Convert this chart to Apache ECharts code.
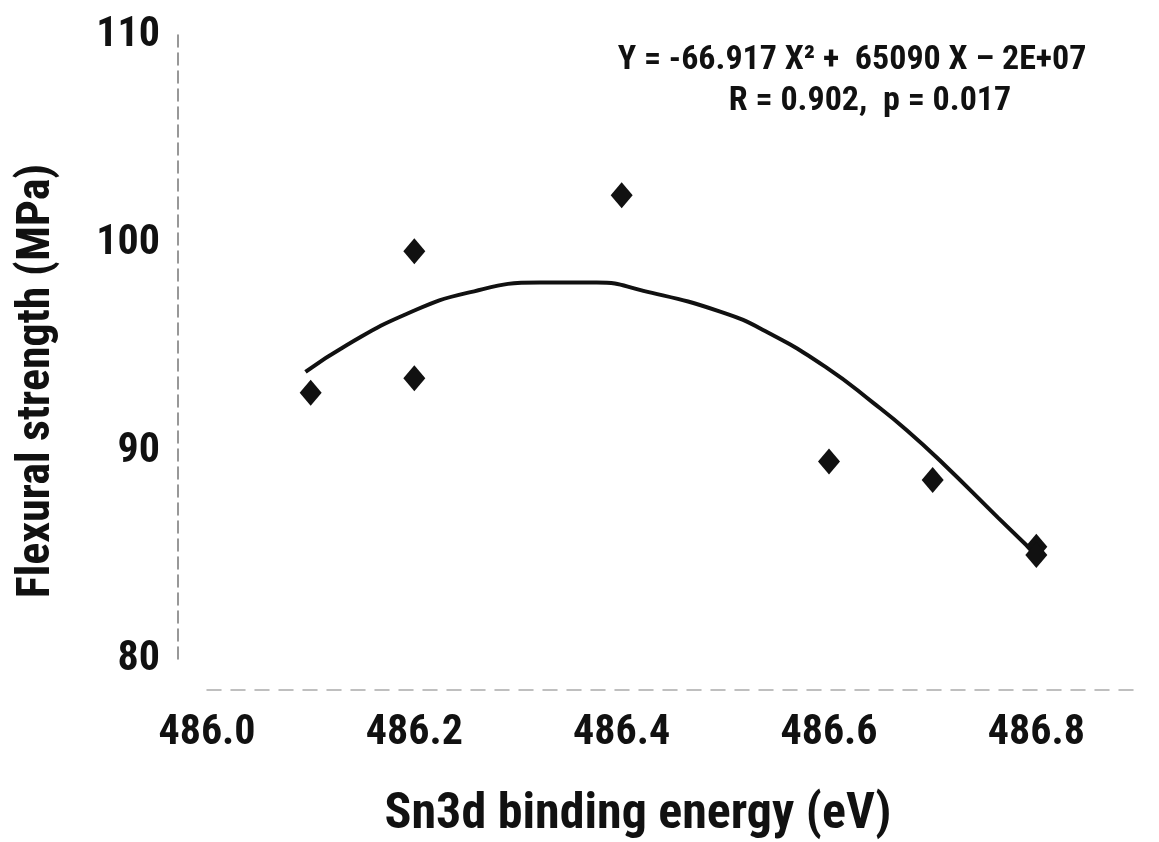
<!DOCTYPE html>
<html>
<head>
<meta charset="utf-8">
<script src="https://cdn.jsdelivr.net/npm/echarts@6/dist/echarts.min.js"></script>
<style>
html,body{margin:0;padding:0;background:#fff;}
#chart{width:1159px;height:842px;}
</style>
</head>
<body>
<div id="chart"></div>
<script>
// Measured data points: [Sn3d binding energy (eV), flexural strength (MPa)]
const pointsX = [486.1, 486.2, 486.2, 486.4, 486.6, 486.7, 486.8, 486.8];
const pointsY = [92.8, 99.6, 93.5, 102.3, 89.5, 88.6, 85.4, 85.0];

// Fitted curve
const curveX = [486.095, 486.135, 486.193, 486.251, 486.321, 486.376, 486.421, 486.495, 486.541, 486.598, 486.643, 486.675, 486.710, 486.763, 486.794];
const curveY = [93.8, 95.1, 96.6, 97.6, 98.1, 98.1, 97.7, 96.7, 95.7, 94.0, 92.3, 91.0, 89.4, 86.8, 85.3];

const xTicks = [486.0, 486.2, 486.4, 486.6, 486.8];
const yTicks = [80, 90, 100, 110];

const xTitle = 'Sn3d binding energy (eV)';
const yTitle = 'Flexural strength (MPa)';
const eqLine1 = 'Y = -66.917 X\u00B2 +  65090 X \u2013 2E+07';
const eqLine2 = 'R = 0.902,  p = 0.017';

const FONT = '"Liberation Sans Narrow", "Arial Narrow", "Roboto Condensed", "Liberation Sans", Arial, sans-serif';

const chart = echarts.init(document.getElementById('chart'), null, {renderer: 'canvas'});
chart.setOption({
  backgroundColor: '#ffffff',
  animation: false,
  grid: {left: 207, right: 19, top: 35, bottom: 183, containLabel: false, outerBoundsMode: 'none'},
  graphic: [
    {type: 'text', style: {text: eqLine1, font: 'bold 34px ' + FONT, x: 852, y: 60, align: 'center', verticalAlign: 'middle', fill: '#111'}},
    {type: 'text', style: {text: eqLine2, font: 'bold 34px ' + FONT, x: 870, y: 101, align: 'center', verticalAlign: 'middle', fill: '#111'}},
    {type: 'text', style: {text: xTitle, font: 'bold 50px ' + FONT, x: 638, y: 815, align: 'center', verticalAlign: 'middle', fill: '#111'}},
    {type: 'text', rotation: Math.PI / 2, x: 37, y: 381, style: {text: yTitle, font: 'bold 46px ' + FONT, x: 0, y: 0, align: 'center', verticalAlign: 'middle', fill: '#111'}}
  ],
  xAxis: {
    type: 'value', min: 486.0, max: 486.9, interval: 0.2,
    offset: 31,
    axisLine: {show: true, lineStyle: {color: '#aaa', width: 1.5, type: [14, 10]}},
    axisTick: {show: false},
    splitLine: {show: false},
    axisLabel: {
      fontFamily: FONT, fontWeight: 'bold', fontSize: 42, color: '#111', margin: 22,
      formatter: v => xTicks.some(t => Math.abs(t - v) < 1e-6) ? v.toFixed(1) : ''
    }
  },
  yAxis: {
    type: 'value', min: 80, max: 110, interval: 10,
    offset: 29,
    axisLine: {show: true, lineStyle: {color: '#777', width: 1.5, type: [12, 6]}},
    axisTick: {show: false},
    splitLine: {show: false},
    axisLabel: {
      fontFamily: FONT, fontWeight: 'bold', fontSize: 42, color: '#111', margin: 18,
      formatter: v => yTicks.includes(v) ? String(v) : ''
    }
  },
  series: [
    {
      type: 'line',
      data: curveX.map((x, i) => [x, curveY[i]]),
      smooth: 0.5, showSymbol: false, symbol: 'none',
      lineStyle: {color: '#111', width: 4}, z: 2
    },
    {
      type: 'scatter',
      data: pointsX.map((x, i) => [x, pointsY[i]]),
      symbol: 'diamond', symbolSize: [22, 26],
      itemStyle: {color: '#111', opacity: 1}, z: 3
    }
  ]
});
</script>
</body>
</html>
